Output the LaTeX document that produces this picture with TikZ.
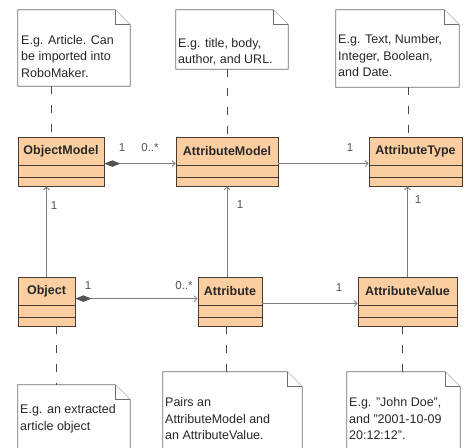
\documentclass[tikz,border=0pt]{standalone}
\usepackage{fontspec}
\setmainfont[Ligatures=NoCommon]{Liberation Sans}
\usetikzlibrary{arrows.meta,calc}

\definecolor{classfill}{RGB}{250,206,160}
\definecolor{classline}{RGB}{70,60,50}
\definecolor{noteline}{RGB}{110,110,110}
\definecolor{wire}{RGB}{125,125,125}
\definecolor{inkgray}{RGB}{40,40,40}

\tikzset{
  umlclass/.style={draw=classline, fill=classfill, line width=0.8pt,
    minimum height=49pt, inner sep=0pt},
  classname/.style={font=\bfseries\fontsize{12.5}{14}\selectfont, text=inkgray, inner sep=0pt},
  notebox/.style={inner sep=0pt},
  noteframe/.style={draw=noteline, line width=0.7pt, fill=white},
  notetext/.style={anchor=north west, align=left, inner sep=0pt, text=inkgray,
    font=\fontsize{12.5}{16.5}\selectfont},
  mult/.style={font=\fontsize{11.5}{13}\selectfont, text=inkgray!80, inner sep=0pt},
  assoc/.style={draw=wire, line width=0.8pt,
    -{Straight Barb[length=3pt,width=6pt]}},
  compo/.style={draw=wire, line width=0.8pt,
    {Diamond[length=16pt,width=6.5pt,fill=inkgray!80,color=inkgray!80]}-{Straight Barb[length=3pt,width=6pt]}},
  anchorline/.style={draw=inkgray!85, line width=0.8pt, dash pattern=on 8pt off 11pt},
}

% folded-corner outline around a named note box
\newcommand\dogear[1]{%
  \draw[noteframe] (#1.north west) -- ([xshift=-15pt]#1.north east)
    -- ([yshift=-15pt]#1.north east) -- (#1.south east) -- (#1.south west) -- cycle;
  \draw[noteframe] ([xshift=-15pt]#1.north east) |- ([yshift=-15pt]#1.north east);
}

% class box with two empty compartments
\newcommand\umlbox[5]{% name, centre x, centre y, width, title
  \node[umlclass, minimum width=#4pt] (#1) at (#2,#3) {};
  \node[classname] (#1-title) at ($(#1.north)+(0,14.5)$) {#5};
  \draw[classline, line width=0.8pt] ($(#1.north west)+(0,29)$) -- ($(#1.north east)+(0,29)$);
  \draw[classline, line width=0.8pt] ($(#1.north west)+(0,41)$) -- ($(#1.north east)+(0,41)$);
}

\begin{document}
\begin{tikzpicture}[x=1pt,y=-1pt]
\useasboundingbox[fill=white] (0,0) rectangle (465,447);

% ---- notes, top row
\node[notebox, minimum width=112pt, minimum height=76pt] (n1) at (74,48) {};
\node[notebox, minimum width=112pt, minimum height=59pt] (n2) at (232,39.5) {};
\node[notebox, minimum width=123pt, minimum height=77pt] (n3) at (397.5,48.5) {};
% ---- notes, bottom row (running off the lower edge)
\node[notebox, minimum width=112pt, minimum height=75pt] (n4) at (74,422.5) {};
\node[notebox, minimum width=139pt, minimum height=88pt] (n5) at (232.5,416) {};
\node[notebox, minimum width=113pt, minimum height=88pt] (n6) at (403.5,416) {};

\begin{scope}
\clip (0,0) rectangle (465,447);
\dogear{n1}\dogear{n2}\dogear{n3}\dogear{n4}\dogear{n5}\dogear{n6}
\end{scope}

\node[notetext] (t1) at (21,32.5) {\strut E.g. Article. Can\\be imported into\\RoboMaker.};
\node[notetext] (t2) at (178,35.5) {\strut E.g. title, body,\\author, and URL.};
\node[notetext] (t3) at (338,32) {\strut E.g. Text, Number,\\Integer, Boolean,\\and Date.};
\node[notetext] (t4) at (20,402) {\strut E.g. an extracted\\article object};
\node[notetext] (t5) at (165,395) {\strut Pairs an\\AttributeModel and\\an AttributeValue.};
\node[notetext] (t6) at (349,395) {\strut E.g. \char"0022 John Doe\char"0022,\\and \char"0022 2001-10-09\\ 20:12:12\char"0022.};

% ---- classes
\umlbox{om}{61}{161.5}{86}{ObjectModel}
\umlbox{am}{227}{161.5}{102}{AttributeModel}
\umlbox{at}{415.5}{161.5}{93}{AttributeType}
\umlbox{ob}{46.5}{301.5}{57}{Object}
\umlbox{atr}{230}{301.5}{64}{Attribute}
\umlbox{av}{407.5}{301.5}{99}{AttributeValue}

% ---- anchors from notes to classes
\coordinate (a1) at ($(om.north west)+(34,0)$);
\draw[anchorline] (a1 |- n1.south) -- (a1);
\draw[anchorline] (am.north |- n2.south) -- (am.north);
\coordinate (a3) at ($(at.north west)+(40,0)$);
\draw[anchorline] (a3 |- n3.south) -- (a3);
\coordinate (a4) at ($(ob.south west)+(39,0)$);
\draw[anchorline] (a4) -- (a4 |- n4.north);
\coordinate (a5) at ($(atr.south west)+(29,0)$);
\draw[anchorline] (a5) -- (a5 |- n5.north);
\coordinate (a6) at ($(av.south west)+(45,0)$);
\draw[anchorline] (a6) -- (a6 |- n6.north);

% ---- associations
\coordinate (c1) at ($(om.north east)+(0,27)$);
\draw[compo] (c1) -- (c1 -| am.west);
\node[mult] (m1) at (122,148) {1};
\node[mult] (m2) at (150,148) {0..*};

\coordinate (c2) at ($(am.north east)+(0,27)$);
\draw[assoc] (c2) -- (c2 -| at.west);
\node[mult] (m3) at (350,148) {1};

\coordinate (c3) at ($(ob.north east)+(0,22)$);
\draw[compo] (c3) -- (c3 -| atr.west);
\node[mult] (m4) at (88,286) {1};
\node[mult] (m5) at (184,286) {0..*};

\coordinate (c4) at ($(atr.north east)+(0,27)$);
\draw[assoc] (c4) -- (c4 -| av.west);
\node[mult] (m6) at (339,288) {1};

\draw[assoc] (ob.north) -- (ob.north |- om.south);
\node[mult] (m7) at (54,206) {1};
\draw[assoc] (atr.north -| am.south) -- (am.south);
\node[mult] (m8) at (240,205) {1};
\draw[assoc] (av.north) -- (av.north |- at.south);
\node[mult] (m9) at (418,200) {1};

\end{tikzpicture}
\end{document}
